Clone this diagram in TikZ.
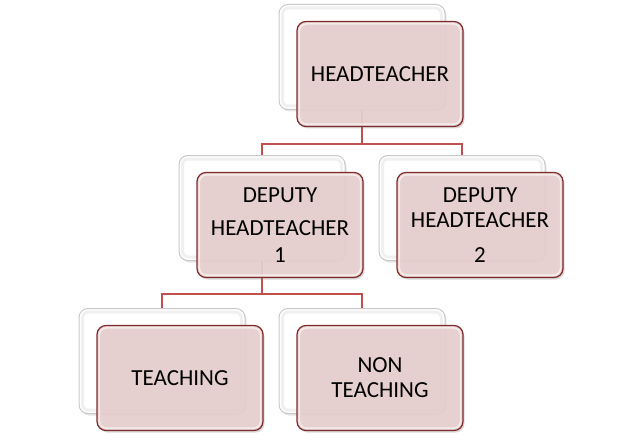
\documentclass[tikz,border=0pt]{standalone}
\usepackage{fontspec}
\setmainfont{Carlito}
\usetikzlibrary{shadows}
\definecolor{pinkfill}{RGB}{232,207,207}
\definecolor{redborder}{RGB}{128,44,44}
\definecolor{conn}{RGB}{192,80,77}
\definecolor{backborder}{RGB}{200,200,200}
\tikzset{
  boxbase/.style={rounded corners=9pt, minimum width=166pt, minimum height=105pt, inner sep=0pt},
  frontbox/.style={boxbase, draw=redborder, line width=1.2pt, fill=pinkfill, align=center,
    font=\fontsize{23}{25}\selectfont, text=black,
    drop shadow={shadow xshift=1.5pt, shadow yshift=-2pt, opacity=0.3}},
  backbox/.style={boxbase, draw=backborder, line width=1pt, fill=white,
    drop shadow={shadow xshift=1.5pt, shadow yshift=-2pt, opacity=0.2}},
  link/.style={draw=conn, line width=2.8pt},
  bevel/.style={draw=white, opacity=0.6, line width=1.6pt, rounded corners=7pt},
  backbevel/.style={draw=black!6, line width=3pt, rounded corners=6pt}
}
\newcommand{\orgbox}[3]{%
  \node[backbox] (b#1) at (#2-18,#3-17) {};
  \draw[backbevel] ([shift={(4pt,-4pt)}]b#1.north west) rectangle ([shift={(-4pt,4pt)}]b#1.south east);
}
\begin{document}
\begin{tikzpicture}[x=1pt,y=-1pt]
\useasboundingbox (0,0) rectangle (642,441);
% back boxes
\orgbox{h}{380}{74}
\orgbox{da}{280}{225}
\orgbox{db}{480}{225}
\orgbox{t}{180}{378}
\orgbox{n}{380}{378}
% connectors
\draw[link] (bh.south) -- ++(0,34) coordinate (j1) -| (bda.north);
\draw[link] (j1) -| (bdb.north);
\draw[link] (bda.south) -- ++(0,33) coordinate (j2) -| (bt.north);
\draw[link] (j2) -| (bn.north);
% front boxes
\node[frontbox, fill opacity=0.93, text opacity=1] (fh) at (380,74) {HEADTEACHER};
\node[frontbox, fill opacity=0.93, text opacity=1] (fda) at (280,225) {DEPUTY\\[8pt]HEADTEACHER\\[2pt]1};
\node[frontbox, fill opacity=0.93, text opacity=1] (fdb) at (480,225) {DEPUTY\\HEADTEACHER\\[10pt]2};
\node[frontbox, fill opacity=0.93, text opacity=1] (ft) at (180,378) {TEACHING};
\node[frontbox, fill opacity=0.93, text opacity=1] (fn) at (380,378) {NON\\TEACHING};
\foreach \f in {fh,fda,fdb,ft,fn}{
  \draw[bevel] ([shift={(3pt,-3pt)}]\f.north west) rectangle ([shift={(-3pt,3pt)}]\f.south east);
}
\end{tikzpicture}
\end{document}
